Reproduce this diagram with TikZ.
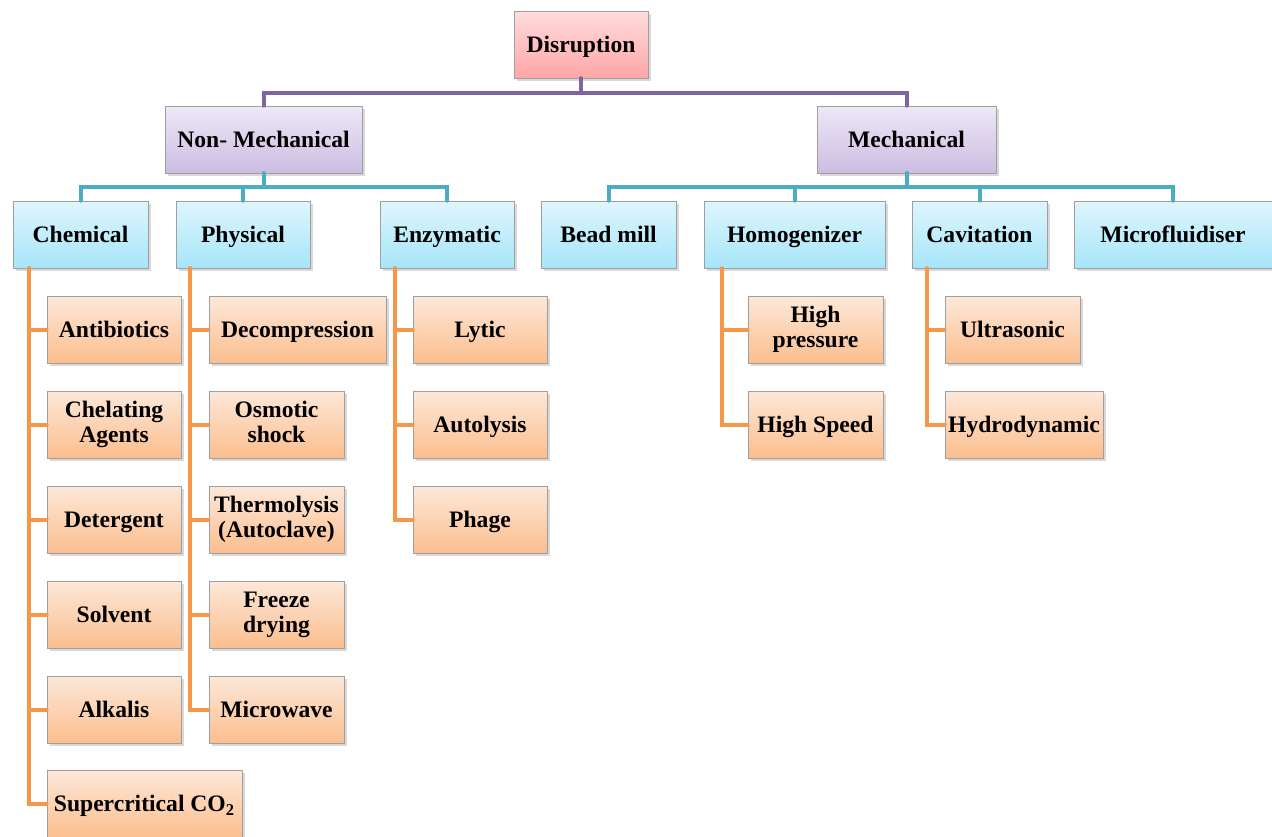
\documentclass[tikz,border=0pt]{standalone}
\usepackage{fontspec}
\setmainfont{Liberation Serif}
\usepackage{tikz}
\usetikzlibrary{shadows}

\definecolor{pinktop}{HTML}{FFDCDD}
\definecolor{pinkbot}{HTML}{FFA6A7}
\definecolor{lilactop}{HTML}{EEE8F6}
\definecolor{lilacbot}{HTML}{CBBDE2}
\definecolor{skytop}{HTML}{DFF6FD}
\definecolor{skybot}{HTML}{A6E5FA}
\definecolor{peachtop}{HTML}{FDE8D9}
\definecolor{peachbot}{HTML}{FBBE8E}
\definecolor{plinec}{HTML}{8064A2}
\definecolor{blinec}{HTML}{4BACC6}
\definecolor{olinec}{HTML}{F79646}

\begin{document}
\begin{tikzpicture}[x=0.5pt, y=-0.5pt, line cap=round,
		box/.style={draw=gray!75, thin, align=center, inner sep=1pt, minimum height=33.5pt,
			font=\bfseries\fontsize{11.8}{12.4}\selectfont,
			execute at begin node={\rule{0pt}{10.8pt}}, execute at end node={\rule[-2.5pt]{0pt}{2.5pt}},
			drop shadow={shadow xshift=1.5pt, shadow yshift=-1.5pt, opacity=0.3, fill=gray}},
		root/.style={box, top color=pinktop, bottom color=pinkbot},
		branch/.style={box, top color=lilactop, bottom color=lilacbot},
		group/.style={box, top color=skytop, bottom color=skybot},
		leaf/.style={box, top color=peachtop, bottom color=peachbot},
		pline/.style={draw=plinec, line width=2pt},
		bline/.style={draw=blinec, line width=2pt},
		oline/.style={draw=olinec, line width=2pt}]
		\useasboundingbox (0,0) rectangle (1272,836);
		
		\node[root, minimum width=67pt] (dis) at (581,44.5) {Disruption};
		
		\node[branch, minimum width=98.5pt] (nm) at (263.5,139.5) {Non- Mechanical};
		\node[branch, minimum width=89.5pt] (mech) at (906.5,139.5) {Mechanical};
		
		\node[group, minimum width=67.5pt] (chem) at (80.5,234.5) {Chemical};
		\node[group, minimum width=67pt] (phys) at (243,234.5) {Physical};
		\node[group, minimum width=67pt] (enz) at (447,234.5) {Enzymatic};
		\node[group, minimum width=67.5pt] (bead) at (608.5,234.5) {Bead mill};
		\node[group, minimum width=90.5pt] (homo) at (794.5,234.5) {Homogenizer};
		\node[group, minimum width=67.5pt] (cav) at (979.5,234.5) {Cavitation};
		\node[group, minimum width=99pt] (micro) at (1173,234.5) {Microfluidiser};
		
		% chemical
		\node[leaf, minimum width=67pt] (anti) at (114,329.5) {Antibiotics};
		\node[leaf, minimum width=67pt] (chel) at (114,424.5) {Chelating\\Agents};
		\node[leaf, minimum width=67pt] (det) at (114,519.5) {Detergent};
		\node[leaf, minimum width=67pt] (solv) at (114,614.5) {Solvent};
		\node[leaf, minimum width=67pt] (alk) at (114,709.5) {Alkalis};
		\node[leaf, minimum width=97.5pt] (sco) at (144.5,803.5) {Supercritical CO\textsubscript{2}};
		
		% physical
		\node[leaf, minimum width=88.5pt] (dec) at (297.5,329.5) {Decompression};
		\node[leaf, minimum width=67.5pt] (osm) at (276.5,424.5) {Osmotic\\shock};
		\node[leaf, minimum width=67.5pt] (therm) at (276.5,519.5) {Thermolysis\\(Autoclave)};
		\node[leaf, minimum width=67.5pt] (frz) at (276.5,614.5) {Freeze\\drying};
		\node[leaf, minimum width=67.5pt] (mw) at (276.5,709.5) {Microwave};
		
		% enzymatic
		\node[leaf, minimum width=67pt] (lyt) at (480,329.5) {Lytic};
		\node[leaf, minimum width=67pt] (auto) at (480,424.5) {Autolysis};
		\node[leaf, minimum width=67pt] (phage) at (480,519.5) {Phage};
		
		\node[leaf, minimum width=67.5pt] (hp) at (815.5,329.5) {High\\pressure};
		\node[leaf, minimum width=67.5pt] (hs) at (815.5,424.5) {High Speed};
		\node[leaf, minimum width=67.5pt] (ultra) at (1012.5,329.5) {Ultrasonic};
		\node[leaf, minimum width=79pt] (hydro) at (1024,424.5) {Hydrodynamic};
		
		\foreach \c in {nm,mech}
			\draw[pline] (dis.south) -- ++(0,15) -| (\c.north);
		\foreach \c in {chem,phys,enz}
			\draw[bline] (nm.south) -- ++(0,14) -| (\c.north);
		\foreach \c in {bead,homo,cav,micro}
			\draw[bline] (mech.south) -- ++(0,14) -| (\c.north);
		
		\foreach \c in {anti,chel,det,solv,alk,sco}
			\draw[oline] ([xshift=8pt]chem.south west) |- (\c.west);
		\foreach \c in {dec,osm,therm,frz,mw}
			\draw[oline] ([xshift=7pt]phys.south west) |- (\c.west);
		\foreach \c in {lyt,auto,phage}
			\draw[oline] ([xshift=7.5pt]enz.south west) |- (\c.west);
		\foreach \c in {hp,hs}
			\draw[oline] ([xshift=9pt]homo.south west) |- (\c.west);
		\foreach \c in {ultra,hydro}
			\draw[oline] ([xshift=7.5pt]cav.south west) |- (\c.west);
	\end{tikzpicture}
\end{document}
